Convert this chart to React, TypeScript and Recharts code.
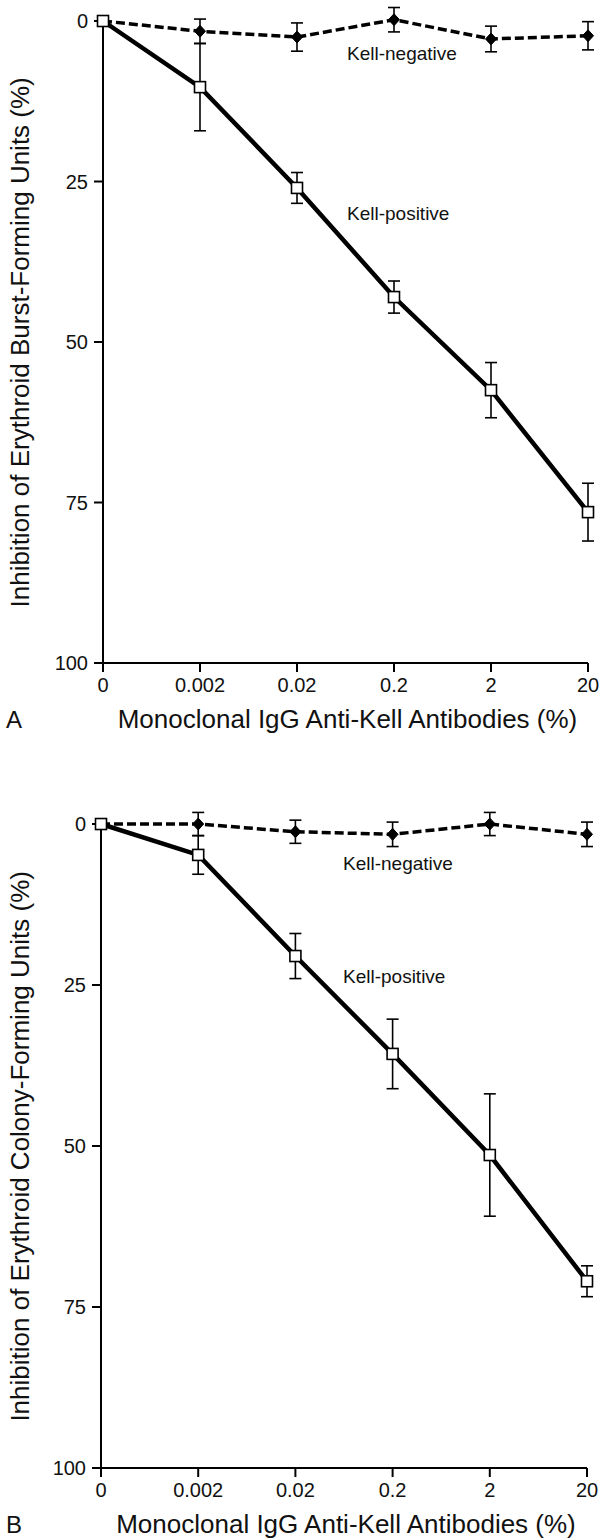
import React from "react";
import {LineChart, Line, XAxis, YAxis, ErrorBar, ReferenceLine} from "recharts";

const doses = ["0", "0.002", "0.02", "0.2", "2", "20"];
const yTicks = [0, 25, 50, 75, 100];

// A - erythroid burst-forming units
const burstPositive = [0, 10.3, 26.0, 43.0, 57.5, 76.5];
const burstPositiveErr = [0, 6.8, 2.4, 2.5, 4.3, 4.5];
const burstNegative = [0, 1.6, 2.5, -0.2, 2.8, 2.3];
const burstNegativeErr = [0, 1.9, 2.2, 1.9, 2.0, 2.2];

// B - erythroid colony-forming units
const colonyPositive = [0, 4.8, 20.5, 35.7, 51.4, 71.0];
const colonyPositiveErr = [0, 3.0, 3.5, 5.4, 9.5, 2.4];
const colonyNegative = [0, 0, 1.2, 1.6, 0, 1.6];
const colonyNegativeErr = [0, 1.8, 1.8, 1.9, 1.8, 1.9];

const FONT = "'Liberation Sans', Arial, Helvetica, sans-serif";
const INK = "#111";

const Square = (p: any) => {
    if (p.cx == null || p.cy == null) return <g key={`sq-${p.index}`}/>;
    return (
        <rect key={`sq-${p.index}`} x={p.cx - 5.5} y={p.cy - 5.5} width={11} height={11}
              fill="#fff" stroke="#000" strokeWidth={1.6}/>
    );
};

const Diamond = (p: any) => {
    if (p.cx == null || p.cy == null) return <g key={`dm-${p.index}`}/>;
    const {cx, cy} = p;
    return (
        <polygon key={`dm-${p.index}`}
                 points={`${cx},${cy - 6} ${cx + 5.5},${cy} ${cx},${cy + 6} ${cx - 5.5},${cy}`}
                 fill="#000" stroke="#000" strokeWidth={1}/>
    );
};

const Panel = ({pos, posErr, neg, negErr, yLabel, letter, marginTop, height, xAxisHeight, left, right}: any) => {
    const rows = doses.map((d, i) => ({dose: d, pos: pos[i], posErr: posErr[i], neg: neg[i], negErr: negErr[i]}));

    const renderYLabel = ({viewBox}: any) => {
        const cx = 20;
        const cy = viewBox.y + viewBox.height / 2 + 10;
        return (
            <text x={cx} y={cy} transform={`rotate(-90 ${cx} ${cy})`} textAnchor="middle"
                  dominantBaseline="central" fontSize={26} fontFamily={FONT} fill={INK}>
                {yLabel}
            </text>
        );
    };

    const renderXLabel = ({viewBox}: any) => (
        <g>
            <text x={6} y={viewBox.y + 65} fontSize={24} fontFamily={FONT} fill={INK}>{letter}</text>
            <text x={viewBox.x + viewBox.width / 2 + 2} y={viewBox.y + 65} textAnchor="middle"
                  fontSize={26} fontFamily={FONT} fill={INK}>
                Monoclonal IgG Anti-Kell Antibodies (%)
            </text>
        </g>
    );

    return (
        <LineChart width={600} height={height} data={rows}
                   margin={{top: marginTop, right: right, left: 0, bottom: 0}}>
            <XAxis dataKey="dose" height={xAxisHeight} tickSize={9} tickMargin={6}
                   axisLine={{stroke: "#000", strokeWidth: 2}} tickLine={{stroke: "#000", strokeWidth: 2}}
                   tick={{fontSize: 20, fontFamily: FONT, fill: INK}} interval={0}
                   label={renderXLabel}/>
            <YAxis type="number" reversed domain={[-3, 100]} ticks={yTicks} width={left}
                   tickSize={9} tickMargin={6} axisLine={false}
                   tickLine={{stroke: "#000", strokeWidth: 2}}
                   tick={{fontSize: 20, fontFamily: FONT, fill: INK}}
                   label={renderYLabel}/>
            <ReferenceLine segment={[{x: "0", y: 0}, {x: "0", y: 100}]} stroke="#000" strokeWidth={2}
                           ifOverflow="visible"/>
            <Line dataKey="neg" stroke="#000" strokeWidth={3.5} strokeDasharray="9 4"
                  dot={Diamond} activeDot={false} isAnimationActive={false}>
                <ErrorBar dataKey="negErr" direction="y" width={6} stroke="#000" strokeWidth={1.6}
                          isAnimationActive={false}/>
            </Line>
            <Line dataKey="pos" stroke="#000" strokeWidth={4.5}
                  dot={Square} activeDot={false} isAnimationActive={false}>
                <ErrorBar dataKey="posErr" direction="y" width={6} stroke="#000" strokeWidth={1.6}
                          isAnimationActive={false}/>
            </Line>
        </LineChart>
    );
};

const Note = ({x, y, children}: any) => (
    <text x={x} y={y} fontSize={19} fontFamily={FONT} fill={INK}>{children}</text>
);

const App = () => {
    return (
        <div style={{position: "absolute", left: 0, top: 0, width: 600, height: 1540, background: "#fff"}}>
            <div style={{position: "absolute", left: 0, top: 0}}>
                <Panel pos={burstPositive} posErr={burstPositiveErr} neg={burstNegative} negErr={burstNegativeErr}
                       yLabel="Inhibition of Erythroid Burst-Forming Units (%)" letter="A"
                       marginTop={1.74} height={760} xAxisHeight={97} left={103} right={12}/>
            </div>
            <div style={{position: "absolute", left: 0, top: 760}}>
                <Panel pos={colonyPositive} posErr={colonyPositiveErr} neg={colonyNegative}
                       negErr={colonyNegativeErr}
                       yLabel="Inhibition of Erythroid Colony-Forming Units (%)" letter="B"
                       marginTop={44.7} height={780} xAxisHeight={72} left={101} right={13}/>
            </div>
            <svg width={600} height={1540} style={{position: "absolute", left: 0, top: 0, pointerEvents: "none"}}>
                <Note x={347} y={60}>Kell-negative</Note>
                <Note x={347} y={220}>Kell-positive</Note>
                <Note x={343} y={870}>Kell-negative</Note>
                <Note x={343} y={983}>Kell-positive</Note>
            </svg>
        </div>
    );
};

export default App;
